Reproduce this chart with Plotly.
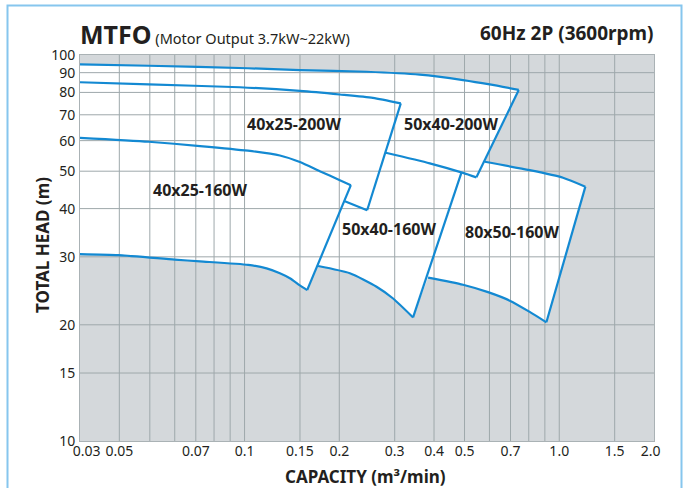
import numpy as np
import plotly.graph_objects as go

# ---------------- data (capacity m3/min, head m) ----------------
X_MIN, X_MAX = 0.03, 2.0
Y_MIN, Y_MAX = 10, 100

# 40x25-160W
q_4025_160_top = [0.030, 0.0496, 0.0722, 0.1025, 0.1295, 0.1499, 0.1734, 0.2008, 0.2177]
h_4025_160_top = [61.0, 59.6, 58.1, 56.5, 54.9, 52.8, 50.0, 47.4, 46.0]
q_4025_160_bot = [0.030, 0.0398, 0.0600, 0.0722, 0.1027, 0.1175, 0.1295, 0.1393, 0.1499, 0.1581]
h_4025_160_bot = [30.5, 30.3, 29.5, 29.2, 28.6, 28.0, 27.2, 26.4, 25.3, 24.6]

# 40x25-200W
q_4025_200_top = [0.030, 0.0496, 0.0966, 0.1499, 0.2008, 0.2557, 0.3137]
h_4025_200_top = [85.0, 83.9, 82.5, 80.7, 79.0, 77.4, 74.9]
q_4025_200_bot = [0.2083, 0.2452]
h_4025_200_bot = [41.8, 39.6]

# 50x40-200W
q_5040_200_top = [0.030, 0.0496, 0.1025, 0.1499, 0.2441, 0.3603, 0.4946, 0.6012, 0.7434]
h_5040_200_top = [94.6, 93.8, 92.4, 91.4, 90.5, 88.9, 86.1, 83.9, 81.2]
q_5040_200_bot = [0.281, 0.3878, 0.4946, 0.5455]
h_5040_200_bot = [55.8, 52.4, 49.5, 48.2]

# 50x40-160W
q_5040_160_top = [0.4888]
h_5040_160_top = [49.6]
q_5040_160_bot = [0.1713, 0.2161, 0.2627, 0.2965, 0.3431]
h_5040_160_bot = [28.4, 27.2, 25.1, 23.4, 20.9]

# 80x50-160W
q_8050_160_top = [0.58, 0.8055, 1.0278, 1.2106]
h_8050_160_top = [52.9, 50.3, 48.1, 45.6]
q_8050_160_bot = [0.3830, 0.4946, 0.5938, 0.6961, 0.8055, 0.9101]
h_8050_160_bot = [26.5, 25.4, 24.3, 23.1, 21.6, 20.3]

pump_names = ["80x50-160W", "50x40-160W", "50x40-200W", "40x25-200W", "40x25-160W"]
pump_label_q = [0.7063, 0.2873, 0.4519, 0.1434, 0.0722]
pump_label_h = [34.8, 35.4, 66.2, 66.2, 44.7]

x_grid = [0.04, 0.05, 0.06, 0.07, 0.08, 0.09, 0.1, 0.15, 0.2, 0.3, 0.4, 0.5, 0.6, 0.7, 0.8, 0.9, 1.0, 1.5]
y_grid = [15, 20, 30, 40, 50, 60, 70, 80, 90]
x_tick_pos = [0.0315, 0.04, 0.07, 0.1, 0.15, 0.2, 0.3, 0.4, 0.5, 0.7, 1.0, 1.5, 1.95]
x_tick_text = ["0.03", "0.05", "0.07", "0.1", "0.15", "0.2", "0.3", "0.4", "0.5", "0.7", "1.0", "1.5", "2.0"]
y_tick_vals = [10, 15, 20, 30, 40, 50, 60, 70, 80, 90, 100]

# ---------------- style ----------------
BG = "#d4d8db"
GRID = "#9ea8ab"
BLUE = "#1389d2"
TXT = "#231f20"
FONT = "Noto Sans"

W, H = 686, 488
ML, MR, MT, MB = 80, 32, 55, 47
PW, PH = W - ML - MR, H - MT - MB


def px_x(px):
    return (px - ML) / PW


def px_y(py):
    return (H - MB - py) / PH


fig = go.Figure()

# white envelope (union of pump regions)
fill_q = (q_5040_200_top + q_8050_160_top + q_8050_160_bot[::-1]
          + q_5040_160_bot[::-1] + q_4025_160_bot[::-1])
fill_h = (h_5040_200_top + h_8050_160_top + h_8050_160_bot[::-1]
          + h_5040_160_bot[::-1] + h_4025_160_bot[::-1])
fig.add_trace(go.Scatter(x=fill_q, y=fill_h, mode="lines", fill="toself",
                         fillcolor="white", line=dict(width=0, color="white"),
                         hoverinfo="skip", showlegend=False))

# grid lines (drawn as traces so they sit above the white fill)
gx, gy = [], []
for v in x_grid:
    gx += [v, v, None]
    gy += [Y_MIN, Y_MAX, None]
for v in y_grid:
    gx += [X_MIN, X_MAX, None]
    gy += [v, v, None]
fig.add_trace(go.Scatter(x=gx, y=gy, mode="lines", line=dict(color=GRID, width=1),
                         hoverinfo="skip", showlegend=False))

# pump outlines: max-impeller curve, min-impeller curve (smooth) and end-of-curve edge (straight)
curves = [
    (q_8050_160_top, h_8050_160_top, q_8050_160_bot, h_8050_160_bot),
    (q_5040_160_top, h_5040_160_top, q_5040_160_bot, h_5040_160_bot),
    (q_5040_200_top, h_5040_200_top, q_5040_200_bot, h_5040_200_bot),
    (q_4025_200_top, h_4025_200_top, q_4025_200_bot, h_4025_200_bot),
    (q_4025_160_top, h_4025_160_top, q_4025_160_bot, h_4025_160_bot),
]
LW = 2.2
for name, (qt, ht, qb, hb) in zip(pump_names, curves):
    for qq, hh in ((qt, ht), (qb, hb)):
        if len(qq) > 1:
            fig.add_trace(go.Scatter(x=qq, y=hh, mode="lines",
                                     line=dict(color=BLUE, width=LW, shape="spline", smoothing=0.6),
                                     hoverinfo="skip", showlegend=False))
    fig.add_trace(go.Scatter(x=[qt[-1], qb[-1]], y=[ht[-1], hb[-1]], mode="lines",
                             line=dict(color=BLUE, width=LW), hoverinfo="skip", showlegend=False))

for name, q, h in zip(pump_names, pump_label_q, pump_label_h):
    fig.add_annotation(x=np.log10(q), y=np.log10(h), xref="x", yref="y", text=f"<b>{name}</b>",
                       showarrow=False, font=dict(size=16, color=TXT, family=FONT))

# titles
fig.add_annotation(xref="paper", yref="paper", x=px_x(78), y=px_y(53), xanchor="left", yanchor="bottom",
                   text="<b>MTFO</b><span style='font-size:14.5px'> (Motor Output 3.7kW~22kW)</span>",
                   showarrow=False, font=dict(size=25, color=TXT, family=FONT))
fig.add_annotation(xref="paper", yref="paper", x=px_x(656), y=px_y(48), xanchor="right", yanchor="bottom",
                   text="<b>60Hz 2P (3600rpm)</b>", showarrow=False,
                   font=dict(size=19, color=TXT, family=FONT))
fig.add_annotation(xref="paper", yref="paper", x=px_x(42), y=px_y(245), textangle=-90,
                   xanchor="center", yanchor="middle",
                   text="<b>TOTAL HEAD (m)</b>", showarrow=False,
                   font=dict(size=17, color=TXT, family=FONT))
fig.add_annotation(xref="paper", yref="paper", x=px_x(365), y=px_y(476),
                   xanchor="center", yanchor="middle",
                   text="<b>CAPACITY (m³/min)</b>", showarrow=False,
                   font=dict(size=17, color=TXT, family=FONT))

# outer frame
fig.add_shape(type="rect", xref="paper", yref="paper",
              x0=px_x(7.5), x1=px_x(681.5), y0=px_y(500), y1=px_y(5.5),
              line=dict(color="#86c6ee", width=2), fillcolor="rgba(0,0,0,0)")

fig.update_xaxes(type="log", range=[np.log10(X_MIN), np.log10(X_MAX)], showgrid=False,
                 zeroline=False, showline=True, linecolor="#aab2b5", linewidth=1, mirror=True,
                 tickmode="array", tickvals=x_tick_pos, ticktext=x_tick_text, ticks="",
                 ticklabelstandoff=-3, tickfont=dict(size=14, color=TXT, family=FONT))
fig.update_yaxes(type="log", range=[np.log10(Y_MIN), np.log10(Y_MAX)], showgrid=False,
                 zeroline=False, showline=True, linecolor="#aab2b5", linewidth=1, mirror=True,
                 tickmode="array", tickvals=y_tick_vals, ticktext=[str(v) for v in y_tick_vals],
                 ticks="", ticklabelstandoff=1, tickfont=dict(size=14, color=TXT, family=FONT))

fig.update_layout(width=W, height=H, margin=dict(l=ML, r=MR, t=MT, b=MB),
                  plot_bgcolor=BG, paper_bgcolor="white", showlegend=False,
                  font=dict(family=FONT, color=TXT))

fig.write_html("out.html", config={"displayModeBar": False},
               post_script="document.body.style.margin='0';document.body.style.overflow='hidden';")
